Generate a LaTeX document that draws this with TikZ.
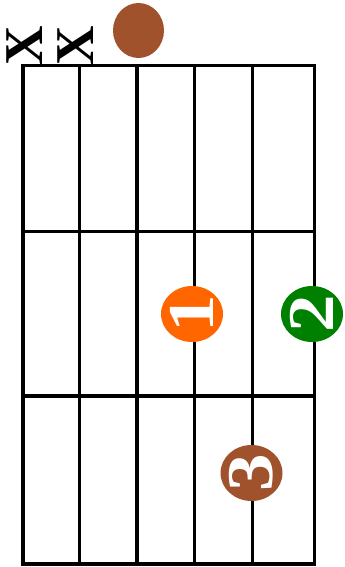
\documentclass[tikz,border=0pt]{standalone}
\usepackage{fontspec}
\setmainfont{Liberation Serif}
\usetikzlibrary{shapes.geometric}
\definecolor{sienna}{HTML}{A0522D}
\definecolor{orng}{HTML}{FF6600}
\definecolor{grn}{HTML}{008000}
\begin{document}
\begin{tikzpicture}[x=0.75pt,y=-0.75pt,
  gridline/.style={line width=2.4pt, line cap=rect},
  dot/.style={ellipse, inner sep=0pt, minimum width=46.5pt, minimum height=42pt, draw=none},
  num/.style={text=white, font=\bfseries\fontsize{49}{49}\selectfont, rotate=90, inner sep=0pt, xscale=1.15},
  xmark/.style={text=black, font=\bfseries\fontsize{41}{41}\selectfont, rotate=90, inner sep=0pt}]
\useasboundingbox (0,0) rectangle (345,567);
% grid
\foreach \x in {23,79.5,137,194.5,252.5,314.5}
  \draw[gridline] (\x,65.5) -- (\x,564);
\foreach \y in {65.5,231.5,396,564}
  \draw[gridline] (23,\y) -- (314.5,\y);
% open string
\node[ellipse, inner sep=0pt, minimum width=38.25pt, minimum height=41.25pt, fill=sienna] (open) at (138.5,30.5) {};
% muted strings
\node[xmark] (x1) at (25,45.5) {X};
\node[xmark] (x2) at (76,45.5) {X};
% fingers
\node[dot, fill=orng] (f1) at (192,314) {};
\node[num] (n1) at (f1) {1};
\node[dot, fill=grn] (f2) at (312,314) {};
\node[num] (n2) at (f2) {2};
\node[dot, fill=sienna] (f3) at (251.5,473) {};
\node[num] (n3) at (f3) {3};
\end{tikzpicture}
\end{document}
